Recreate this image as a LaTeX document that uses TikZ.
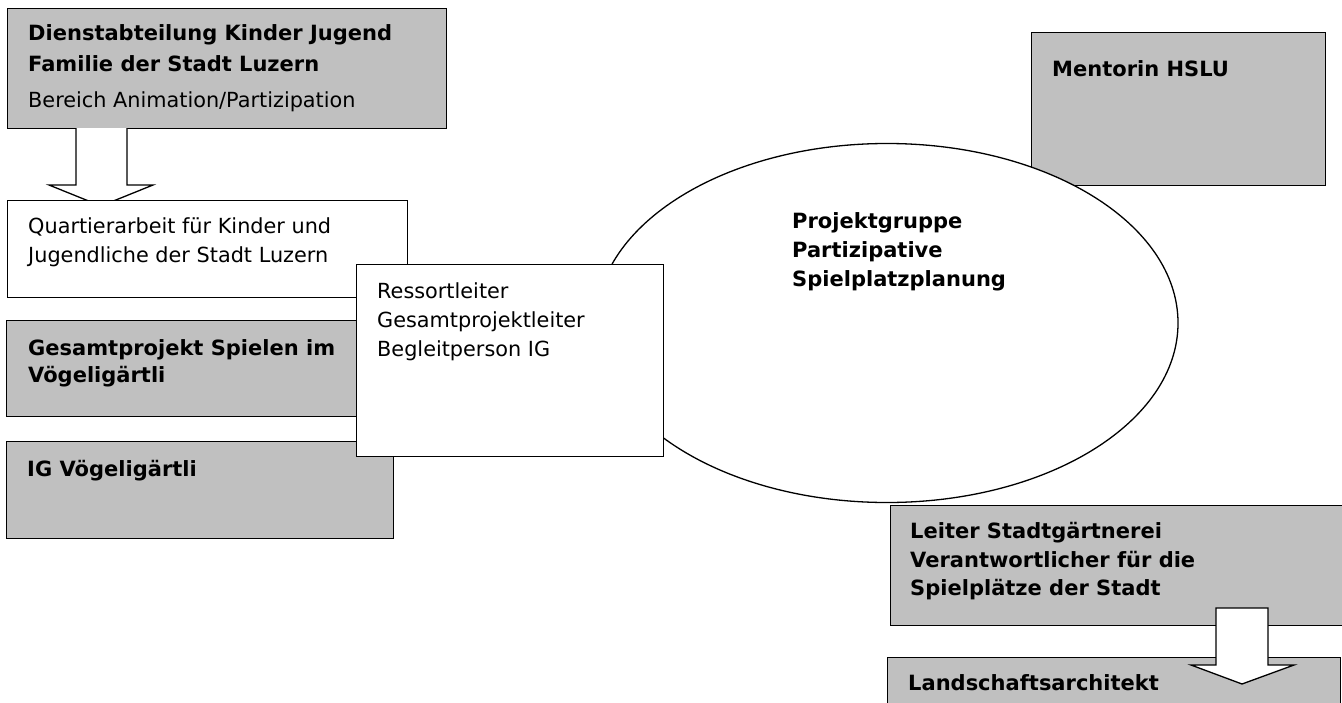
\documentclass[tikz,border=0pt]{standalone}
\usepackage{fontspec}
\setmainfont{DejaVu Sans}
\usetikzlibrary{shapes.geometric}
\definecolor{boxgray}{HTML}{C0C0C0}
\tikzset{
  boxbase/.style={draw=black, line width=1.3bp, rectangle, inner sep=0pt, anchor=north west},
  graybox/.style={boxbase, fill=boxgray},
  whitebox/.style={boxbase, fill=white},
  bold/.style={anchor=base west, inner sep=0pt, font=\fontsize{21bp}{29bp}\selectfont\bfseries},
  reg/.style={anchor=base west, inner sep=0pt, font=\fontsize{20.8bp}{29bp}\selectfont},
  blockarrow/.style={draw=black, line width=1.3bp, fill=white, line join=miter}
}
\begin{document}
\begin{tikzpicture}[x=1bp, y=-1bp]
\useasboundingbox (0,0) rectangle (1342,702);
% left column
\node[graybox, minimum width=439bp, minimum height=120bp] (b1) at (7,8) {};
\node[bold] (t1a) at (28,41) {Dienstabteilung Kinder Jugend};
\node[bold] (t1b) at (28,72) {Familie der Stadt Luzern};
\node[reg] (t1c) at (28,108) {Bereich Animation/Partizipation};
\coordinate (a1s1) at (76,128);
\coordinate (a1s2) at (127,128);
\draw[blockarrow] (a1s1) -- (76,185) -- (49,185) -- (101,206) -- (153,185) -- (127,185) -- (a1s2);
\node[whitebox, minimum width=400bp, minimum height=97bp] (b2) at (7,200) {};
\node[reg] (t2a) at (28,233) {Quartierarbeit für Kinder und};
\node[reg] (t2b) at (28,262) {Jugendliche der Stadt Luzern};
\node[graybox, minimum width=394bp, minimum height=96bp] (b3) at (6,320) {};
\node[bold] (t3a) at (28,355) {Gesamtprojekt Spielen im};
\node[bold] (t3b) at (28,382) {Vögeligärtli};
\node[graybox, minimum width=387bp, minimum height=97bp] (b4) at (6,441) {};
\node[bold] (t4) at (27,476) {IG Vögeligärtli};
% right side
\node[graybox, minimum width=294bp, minimum height=153bp] (men) at (1031,32) {};
\node[bold] (tmen) at (1052,77) {Mentorin HSLU};
\node[draw=black, line width=1.3bp, fill=white, ellipse, minimum width=582bp, minimum height=359bp, inner sep=0pt] (ell) at (887,323) {};
\node[bold] (tp1) at (792,228) {Projektgruppe};
\node[bold] (tp2) at (792,257) {Partizipative};
\node[bold] (tp3) at (792,286) {Spielplatzplanung};
\node[whitebox, minimum width=307bp, minimum height=192bp] (res) at (356,264) {};
\node[reg] (tr1) at (377,298) {Ressortleiter};
\node[reg] (tr2) at (377,327) {Gesamtprojektleiter};
\node[reg] (tr3) at (377,356) {Begleitperson IG};
\node[graybox, minimum width=460bp, minimum height=120bp] (lei) at (890,505) {};
\node[bold] (tl1) at (910,538) {Leiter Stadtgärtnerei};
\node[bold] (tl2) at (910,567) {Verantwortlicher für die};
\node[bold] (tl3) at (910,595) {Spielplätze der Stadt};
\node[graybox, minimum width=453bp, minimum height=70bp] (lan) at (887,657) {};
\node[bold] (tlan) at (908,690) {Landschaftsarchitekt};
\coordinate (a2s1) at (1216,608);
\coordinate (a2s2) at (1268,608);
\draw[blockarrow] (a2s1) -- (1216,665) -- (1191,665) -- (1242,684) -- (1294,665) -- (1268,665) -- (a2s2) -- cycle;
\end{tikzpicture}
\end{document}
